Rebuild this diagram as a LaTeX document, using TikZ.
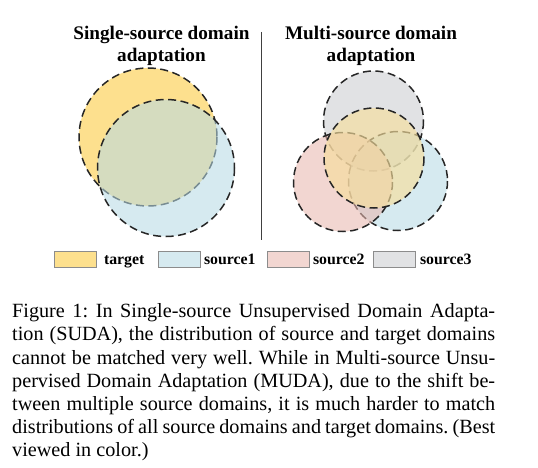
\documentclass[tikz,border=0pt]{standalone}
\usepackage{fontspec}
\setmainfont{Liberation Serif}
\usetikzlibrary{positioning}
\definecolor{tgtyellow}{HTML}{FBC939}
\definecolor{tgtpale}{HTML}{F6DE9C}
\definecolor{srcblue}{HTML}{B7DAE5}
\definecolor{srcpink}{HTML}{E8B7AE}
\definecolor{srcgray}{HTML}{CACCD0}
\tikzset{
  dist/.style={fill=#1,fill opacity=0.57,draw=black!85,line width=1.5pt,dash pattern=on 8pt off 4.5pt},
  keybox/.style={draw=black!45,line width=0.8pt,fill=#1,fill opacity=0.57,minimum width=42pt,minimum height=16pt,inner sep=0pt},
  keytext/.style={font=\fontsize{15.8}{18}\selectfont\bfseries,inner sep=0pt},
  paneltitle/.style={font=\fontsize{19.2}{22}\selectfont\bfseries,align=center,inner sep=0pt}
}
\begin{document}
\begin{tikzpicture}[x=1pt,y=-1pt]
  \useasboundingbox (0,0) rectangle (538,468);
  % Panel titles and divider
  \node[paneltitle] (singletitle) at (161.5,46) {Single-source domain\\adaptation};
  \node[paneltitle] (multititle) at (371,46) {Multi-source domain\\adaptation};
  \draw[black!75,line width=0.9pt] (261,32) -- (261,240);
  % Single source: target and one source
  \filldraw[dist=tgtyellow] (148,137) circle (69);
  \filldraw[dist=srcblue] (166,168) circle (68.5);
  % Multi source: three sources and the target on top
  \filldraw[dist=srcgray] (373.5,121) circle (50);
  \filldraw[dist=srcblue] (398,181) circle (49.5);
  \filldraw[dist=srcpink] (343,182) circle (49.5);
  \filldraw[dist=tgtpale,fill opacity=0.65] (374,158) circle (50);
  % Legend
  \foreach \key/\col/\lbl/\x/\gap in {tgt/tgtyellow/target/54/7pt,srca/srcblue/source1/158/3pt,srcb/srcpink/source2/267/3pt,srcc/srcgray/source3/373/4pt}{
    \node[keybox=\col,anchor=west] (box\key) at (\x,259) {};
    \node[keytext,anchor=base west] (lbl\key) at ([xshift=\gap,yshift=-5pt]box\key.east) {\lbl};
  }
  % Caption
  \node[anchor=north west,inner sep=0pt,align=left,font=\fontsize{20.2}{23.2}\selectfont\frenchspacing] (caption) at (12,303.5) {%
    \makebox[483pt][s]{Figure 1: In Single-source Unsupervised Domain Adapta-}\\
    \makebox[483pt][s]{tion (SUDA), the distribution of source and target domains}\\
    \makebox[483pt][s]{cannot be matched very well. While in Multi-source Unsu-}\\
    \makebox[483pt][s]{pervised Domain Adaptation (MUDA), due to the shift be-}\\
    \makebox[483pt][s]{tween multiple source domains, it is much harder to match}\\
    \makebox[483pt][s]{distributions of all source domains and target domains. (Best}\\
    viewed in color.)};
\end{tikzpicture}
\end{document}
